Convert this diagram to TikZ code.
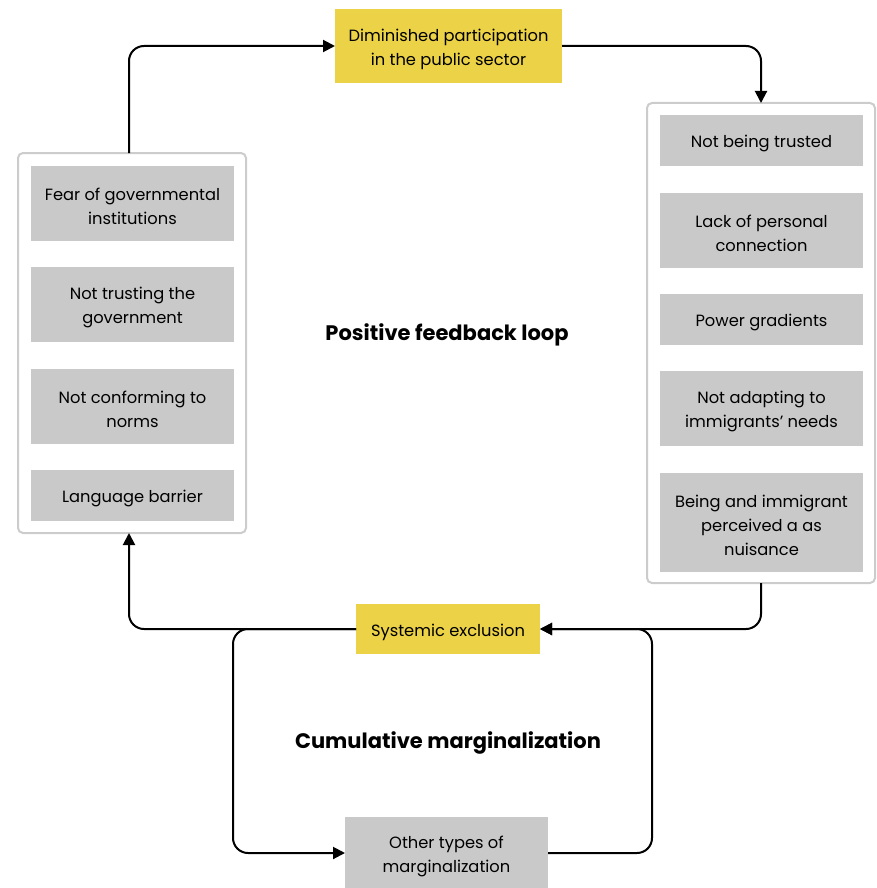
\documentclass[tikz,border=0pt]{standalone}
\usepackage{fontspec}
\setmainfont{Poppins}
\usetikzlibrary{arrows.meta}
\definecolor{hilite}{HTML}{EBD247}
\definecolor{cellgray}{HTML}{C9C9C9}
\definecolor{framegray}{HTML}{CCCCCC}
\begin{document}
\begin{tikzpicture}[x=1pt,y=-1pt,
  every node/.style={inner sep=0pt, outer sep=0pt, align=center,
    font=\fontsize{16.3}{24}\selectfont},
  cell/.style={fill=cellgray, minimum width=203pt},
  keybox/.style={fill=hilite},
  txt/.style={yshift=-3pt},
  frame/.style={draw=framegray, line width=2pt, rounded corners=5pt, fill=white},
  title/.style={font=\fontsize{21}{24}\selectfont\bfseries},
  arr/.style={line width=2pt, rounded corners=15pt, -{Triangle[length=12pt,width=12pt]}}]
\useasboundingbox (0,0) rectangle (876,888);

% containers
\node[frame, minimum width=228pt, minimum height=380pt] (left) at (132,343) {};
\node[frame, minimum width=228pt, minimum height=480pt] (right) at (761,343) {};

% left column
\node[cell, minimum height=75pt] (l1) at (132.5,203.5) {};
\node[cell, minimum height=75pt] (l2) at (132.5,304.5) {};
\node[cell, minimum height=75pt] (l3) at (132.5,406.5) {};
\node[cell, minimum height=51pt] (l4) at (132.5,495.5) {};
\node[txt] (l1t) at (l1) {Fear of governmental\\institutions};
\node[txt] (l2t) at (l2) {Not trusting the\\government};
\node[txt] (l3t) at (l3) {Not conforming to\\norms};
\node[txt] (l4t) at (l4) {Language barrier};

% right column
\node[cell, minimum height=51pt] (r1) at (761.5,140.5) {};
\node[cell, minimum height=75pt] (r2) at (761.5,230.5) {};
\node[cell, minimum height=51pt] (r3) at (761.5,319.5) {};
\node[cell, minimum height=75pt] (r4) at (761.5,408.5) {};
\node[cell, minimum height=99pt] (r5) at (761.5,522.5) {};
\node[txt] (r1t) at (r1) {Not being trusted};
\node[txt] (r2t) at (r2) {Lack of personal\\connection};
\node[txt] (r3t) at (r3) {Power gradients};
\node[txt] (r4t) at (r4) {Not adapting to\\immigrants’ needs};
\node[txt] (r5t) at (r5) {Being and immigrant\\perceived a as\\nuisance};

% key states
\node[keybox, minimum width=227pt, minimum height=74pt] (top) at (448.5,46) {};
\node[keybox, minimum width=184pt, minimum height=50pt] (sys) at (448,629) {};
\node[cell, minimum width=203pt, minimum height=72pt] (other) at (446.5,853) {};
\node[txt] (topt) at (top) {Diminished participation\\in the public sector};
\node[txt] (syst) at (sys) {Systemic exclusion};
\node[txt] (othert) at (other) {Other types of\\marginalization};

% loop titles
\node[title] (pos) at (447,335) {Positive feedback loop};
\node[title] (cum) at (448,743) {Cumulative marginalization};

% outer loop
\coordinate (lx) at (129,0);
\draw[arr] (left.north -| lx) |- (top.west);
\draw[arr] (top.east) -| (right.north);
\draw[arr] (right.south) |- (sys.east);
\draw[arr] (sys.west) -| (left.south -| lx);

% inner loop
\coordinate (cl) at (233,853);
\coordinate (cr) at (652,629);
\draw[arr] (sys.west) -| (cl) -- (other.west);
\draw[arr] (other.east) -| (cr) -- (sys.east);
\end{tikzpicture}
\end{document}
